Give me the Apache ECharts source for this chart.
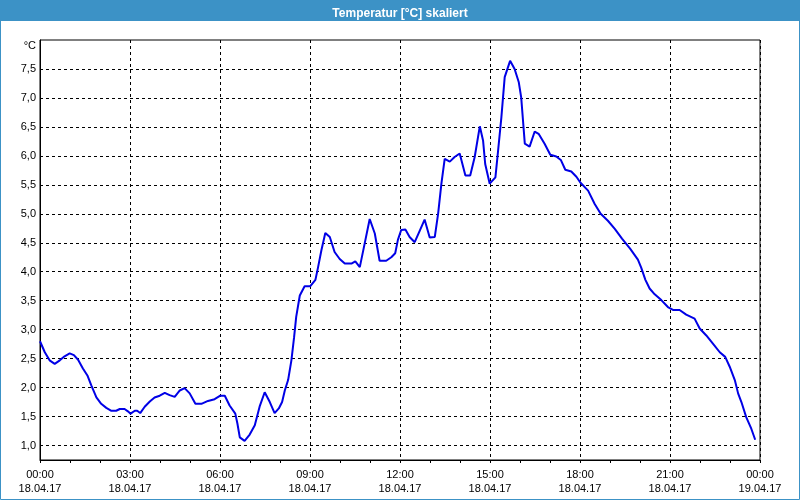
<!DOCTYPE html>
<html>
<head>
<meta charset="utf-8">
<script src="https://cdn.jsdelivr.net/npm/echarts@6/dist/echarts.min.js"></script>
<style>
html,body{margin:0;padding:0;background:#fff;}
#chart{width:800px;height:500px;}
</style>
</head>
<body>
<div id="chart"></div>
<script>
// Time of day in hours (0 = 18.04.17 00:00)
var hours = [0.00,0.16,0.32,0.49,0.66,0.82,0.99,1.13,1.27,1.43,1.58,1.71,1.88,2.04,2.21,2.38,2.54,2.66,2.82,2.93,
3.02,3.16,3.24,3.34,3.49,3.66,3.82,3.99,4.16,4.32,4.49,4.66,4.82,4.99,5.18,5.38,5.60,5.82,6.01,6.16,
6.32,6.51,6.58,6.66,6.82,6.99,7.16,7.32,7.49,7.66,7.82,7.96,8.07,8.16,8.27,8.38,8.47,8.54,8.66,8.82,
9.01,9.18,9.27,9.38,9.51,9.66,9.82,9.99,10.16,10.38,10.51,10.66,10.82,10.99,11.16,11.32,11.54,11.71,11.84,11.93,
12.04,12.18,12.32,12.49,12.66,12.82,12.99,13.16,13.27,13.38,13.49,13.66,13.82,13.99,14.18,14.34,14.49,14.66,14.77,14.84,
14.99,15.18,15.27,15.38,15.49,15.67,15.82,15.96,16.04,16.10,16.16,16.32,16.49,16.62,16.82,17.01,17.21,17.36,17.51,17.71,
17.88,18.01,18.27,18.49,18.69,18.93,19.16,19.40,19.67,19.93,20.04,20.18,20.32,20.49,20.71,20.93,21.10,21.32,21.54,21.82,
21.99,22.21,22.43,22.66,22.84,22.99,23.16,23.27,23.38,23.54,23.71,23.84];
// Temperature in °C
var temps = [2.80,2.61,2.47,2.41,2.47,2.54,2.59,2.56,2.48,2.33,2.21,2.04,1.83,1.72,1.65,1.60,1.60,1.63,1.63,1.59,
1.55,1.60,1.60,1.56,1.67,1.76,1.83,1.86,1.91,1.87,1.84,1.95,1.99,1.90,1.72,1.72,1.77,1.80,1.86,1.86,
1.69,1.55,1.38,1.14,1.08,1.19,1.35,1.67,1.92,1.75,1.56,1.64,1.75,1.95,2.13,2.47,2.87,3.22,3.59,3.75,
3.75,3.86,4.08,4.37,4.67,4.60,4.34,4.22,4.14,4.14,4.18,4.08,4.48,4.91,4.66,4.19,4.19,4.25,4.32,4.55,
4.72,4.73,4.60,4.51,4.71,4.90,4.59,4.60,5.00,5.52,5.95,5.90,5.98,6.04,5.66,5.66,5.98,6.51,6.26,5.86,
5.52,5.63,6.09,6.67,7.36,7.64,7.50,7.27,7.01,6.61,6.21,6.16,6.42,6.38,6.21,6.02,5.99,5.93,5.76,5.73,
5.64,5.54,5.40,5.17,5.00,4.88,4.74,4.57,4.40,4.21,4.07,3.86,3.71,3.61,3.51,3.39,3.34,3.34,3.26,3.19,
3.02,2.90,2.76,2.61,2.53,2.36,2.13,1.90,1.75,1.49,1.29,1.10];
// Tick labels
var timeLabels = ['00:00','03:00','06:00','09:00','12:00','15:00','18:00','21:00','00:00'];
var dateLabels = ['18.04.17','18.04.17','18.04.17','18.04.17','18.04.17','18.04.17','18.04.17','18.04.17','19.04.17'];
var yTicks = [1.0,1.5,2.0,2.5,3.0,3.5,4.0,4.5,5.0,5.5,6.0,6.5,7.0,7.5];

var seriesData = hours.map(function(h,i){return [h, temps[i]];});
var font = 'Liberation Sans, Arial, sans-serif';

var chart = echarts.init(document.getElementById('chart'), null, {renderer:'canvas'});
chart.setOption({
  animation:false,
  backgroundColor:'#ffffff',
  title:{
    text:'Temperatur [°C] skaliert',
    left:'center', top:3,
    textStyle:{color:'#ffffff', fontWeight:'bold', fontSize:12, fontFamily:font}
  },
  graphic:[
    {type:'rect', z:-1, shape:{x:0,y:0,width:800,height:21}, style:{fill:'#3c92c6'}},
    {type:'rect', z:-1, shape:{x:0.5,y:0.5,width:799,height:499}, style:{fill:null, stroke:'#3c92c6', lineWidth:1}}
  ],
  grid:{left:40, right:40, top:40, bottom:40, show:true, borderColor:'#000', borderWidth:1, backgroundColor:'#ffffff'},
  xAxis:{
    type:'value', min:0, max:24, interval:3,
    axisLine:{show:true, lineStyle:{color:'#000', width:1}},
    axisTick:{show:true, length:3, lineStyle:{color:'#000'}},
    minorTick:{show:true, splitNumber:3, length:3, lineStyle:{color:'#000'}},
    splitLine:{show:true, lineStyle:{color:'#000', type:[3,3], width:1}},
    axisLabel:{
      color:'#000', fontSize:11, fontFamily:font, lineHeight:14, margin:8,
      formatter:function(v){var i=Math.round(v/3); return timeLabels[i]+'\n'+dateLabels[i];}
    }
  },
  yAxis:{
    type:'value', min:0.75, max:8,
    name:'°C', nameLocation:'end', nameGap:-6,
    nameTextStyle:{color:'#000', fontSize:11, fontFamily:font, align:'right', verticalAlign:'middle', padding:[0,4,0,0]},
    axisLine:{show:true, lineStyle:{color:'#000', width:1}},
    axisTick:{show:false, customValues:yTicks},
    splitLine:{show:true, lineStyle:{color:'#000', type:[3,3], width:1}},
    axisLabel:{
      color:'#000', fontSize:11, fontFamily:font, margin:4, customValues:yTicks,
      formatter:function(v){return v.toFixed(1).replace('.', ',');}
    }
  },
  series:[{
    type:'line', data:seriesData, showSymbol:false, symbol:'none',
    lineStyle:{color:'#0000e6', width:2}, smooth:false
  }]
});
</script>
</body>
</html>
